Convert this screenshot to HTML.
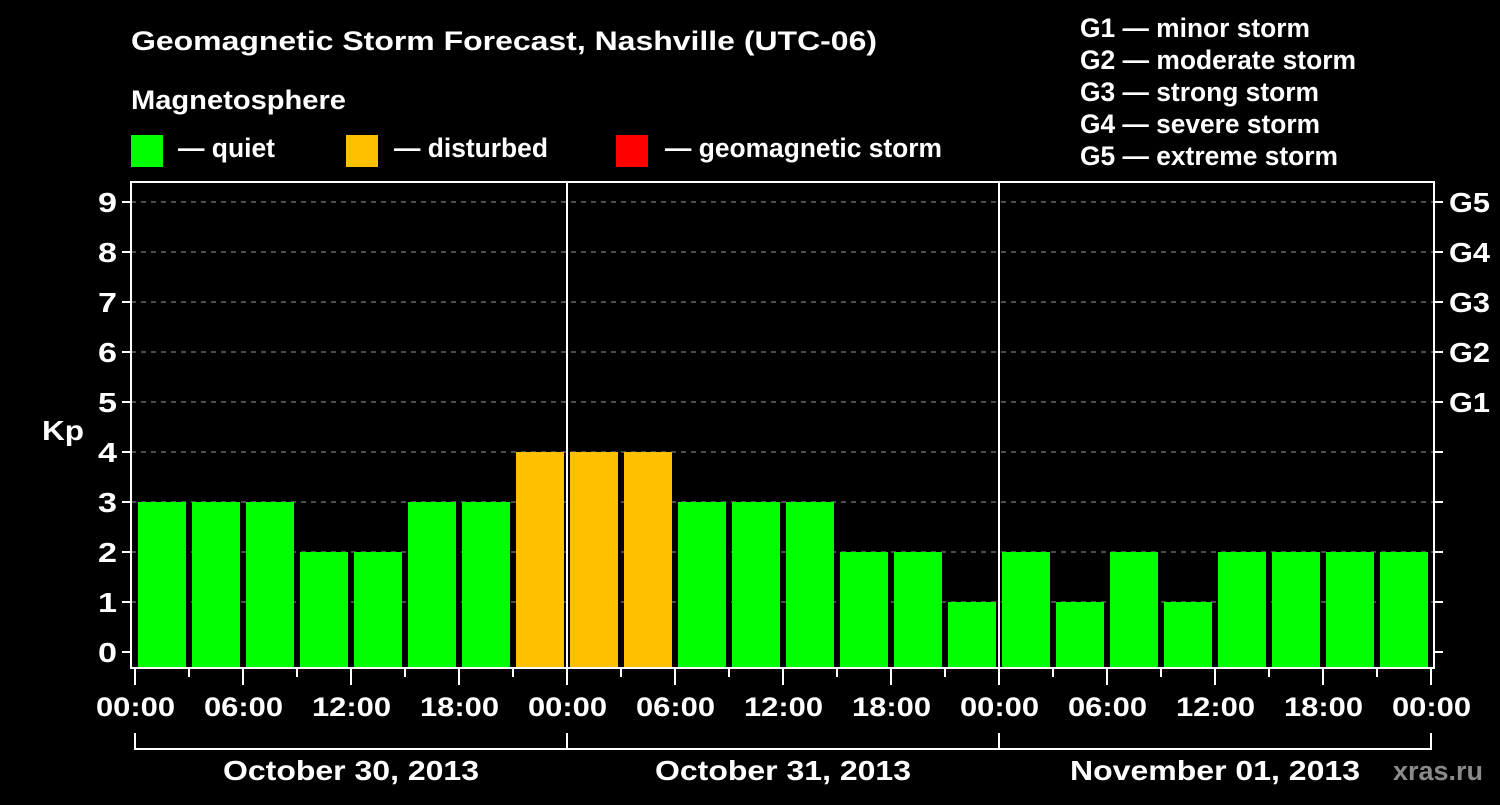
<!DOCTYPE html>
<html><head><meta charset="utf-8"><style>
body{margin:0;background:#000;width:1500px;height:800px;overflow:hidden}
svg text{font-family:"Liberation Sans",sans-serif;font-weight:bold;fill:#fff}
</style></head><body>
<svg id="c" width="1500" height="800">
<text x="131" y="50" font-size="27" textLength="746" lengthAdjust="spacingAndGlyphs">Geomagnetic Storm Forecast, Nashville (UTC-06)</text>
<text x="131" y="109" font-size="27" textLength="215" lengthAdjust="spacingAndGlyphs">Magnetosphere</text>
<rect x="131" y="135" width="32" height="32" fill="#00ff00"/>
<text x="178" y="157" font-size="27" textLength="97" lengthAdjust="spacingAndGlyphs">— quiet</text>
<rect x="346" y="135" width="32" height="32" fill="#ffc000"/>
<text x="394" y="157" font-size="27" textLength="154" lengthAdjust="spacingAndGlyphs">— disturbed</text>
<rect x="616" y="135" width="32" height="32" fill="#ff0000"/>
<text x="665" y="157" font-size="27" textLength="277" lengthAdjust="spacingAndGlyphs">— geomagnetic storm</text>
<g font-size="27">
<text x="1080" y="37" textLength="230" lengthAdjust="spacingAndGlyphs">G1 — minor storm</text>
<text x="1080" y="69" textLength="276" lengthAdjust="spacingAndGlyphs">G2 — moderate storm</text>
<text x="1080" y="101" textLength="239" lengthAdjust="spacingAndGlyphs">G3 — strong storm</text>
<text x="1080" y="133" textLength="240" lengthAdjust="spacingAndGlyphs">G4 — severe storm</text>
<text x="1080" y="165" textLength="258" lengthAdjust="spacingAndGlyphs">G5 — extreme storm</text>
</g>
<text x="42" y="440" font-size="28" textLength="42" lengthAdjust="spacingAndGlyphs">Kp</text>
<text x="1393" y="780" font-size="27" textLength="90" lengthAdjust="spacingAndGlyphs" style="fill:#8a8a8a">xras.ru</text>
<g id="plot"></g>
</svg>
<script>
const kpValues=[3,3,3,2,2,3,3,4,4,4,3,3,3,2,2,1,2,1,2,1,2,2,2,2];
const yTicks=[0,1,2,3,4,5,6,7,8,9];
const gLabels=["G1","G2","G3","G4","G5"];
const xLabels=["00:00","06:00","12:00","18:00","00:00","06:00","12:00","18:00","00:00","06:00","12:00","18:00","00:00"];
const dayLabels=["October 30, 2013","October 31, 2013","November 01, 2013"];
const NS="http://www.w3.org/2000/svg";
const g=document.getElementById('plot');
const L=131,R=1434,T=182,B=668,X0=135,step=54;
const y=v=>652-50*v;
const x=i=>X0+step*i;
function mk(t,a){const e=document.createElementNS(NS,t);for(const k in a)e.setAttribute(k,a[k]);g.appendChild(e);return e;}
yTicks.forEach(v=>{
 if(v>0){const d=mk('line',{x1:L,x2:R,y1:y(v),y2:y(v),stroke:'#999','stroke-dasharray':'5,5','stroke-width':1});
 
 }
 const t=mk('line',{x1:L-9,x2:L,y1:y(v),y2:y(v),stroke:'#fff','stroke-width':2});
 
 
 const t2=mk('line',{x1:R,x2:R+9,y1:y(v),y2:y(v),stroke:'#fff','stroke-width':2});
 
 
 const tx=mk('text',{x:L-14,y:y(v)+10,'font-size':28,'text-anchor':'end',textLength:19,lengthAdjust:'spacingAndGlyphs'});tx.textContent=v;
 
 
});
gLabels.forEach((s,i)=>{const tx=mk('text',{x:R+15,y:y(i+5)+10,'font-size':28,textLength:41,lengthAdjust:'spacingAndGlyphs'});tx.textContent=s;
 
 });
kpValues.forEach((v,i)=>{
 const r=mk('rect',{x:x(i)+3,y:y(v),width:48,height:B-y(v),fill:v>=5?'#ff0000':v>=4?'#ffc000':'#00ff00'});
 
 
});
[1,2].forEach(d=>{const l=mk('line',{x1:x(d*8),x2:x(d*8),y1:T,y2:B,stroke:'#fff','stroke-width':2});
 
 });
const fr=mk('rect',{x:L,y:T,width:R-L,height:B-T,fill:'none',stroke:'#fff','stroke-width':2});


for(let i=0;i<=24;i++){
 const maj=i%2==0;
 const t=mk('line',{x1:x(i),x2:x(i),y1:B,y2:B+(maj?17:9),stroke:'#fff','stroke-width':2});
 
 
}
xLabels.forEach((s,i)=>{const tx=mk('text',{x:x(i*2)-39,y:716,'font-size':27,textLength:79,lengthAdjust:'spacingAndGlyphs'});tx.textContent=s;
 
 });
const br=mk('path',{d:`M${x(0)},733V749H${x(24)}V733`,fill:'none',stroke:'#fff','stroke-width':2});


[1,2].forEach(d=>{const l=mk('line',{x1:x(d*8),x2:x(d*8),y1:733,y2:749,stroke:'#fff','stroke-width':2});
 
 });
const dayW=[256,256,290];
dayLabels.forEach((s,i)=>{const tx=mk('text',{x:x(i*8+4)-dayW[i]/2,y:780,'font-size':28,textLength:dayW[i],lengthAdjust:'spacingAndGlyphs'});tx.textContent=s;
 
 });
</script>
</body></html>
